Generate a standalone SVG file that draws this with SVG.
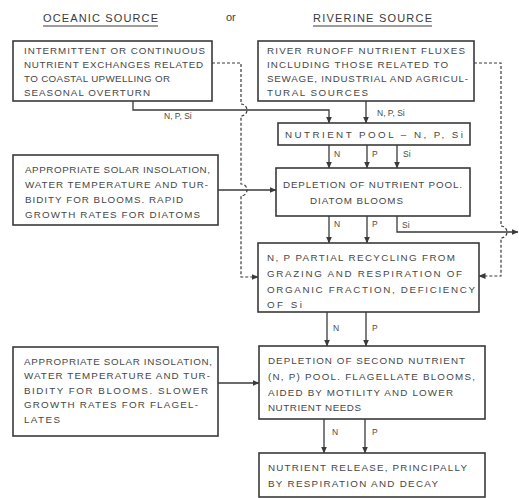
<svg xmlns="http://www.w3.org/2000/svg" width="519" height="498" viewBox="0 0 519 498">
<style>
.bg{fill:#ffffff}
.box{fill:#ffffff;stroke:#3a3a3a;stroke-width:1.6}
.t{font-family:"Liberation Sans",Arial,sans-serif;font-size:9.8px;fill:#474747}
.h{font-family:"Liberation Sans",Arial,sans-serif;font-size:11px;fill:#3a3a3a}
.lb{font-family:"Liberation Sans",Arial,sans-serif;font-size:8.5px;fill:#4a4a4a}
.ln{fill:none;stroke:#3a3a3a;stroke-width:1.3}
.ds{fill:none;stroke:#3a3a3a;stroke-width:1.2;stroke-dasharray:3 2}
</style>
<defs>
<marker id="ah" markerWidth="7" markerHeight="6" refX="6.5" refY="3" orient="auto" markerUnits="userSpaceOnUse">
<path d="M0,0 L7,3 L0,6 z" fill="#3a3a3a"/>
</marker>
</defs>
<rect class="bg" x="0" y="0" width="519" height="498"/>

<g id="headers">
<text class="h" x="43" y="22" textLength="115" lengthAdjust="spacing">OCEANIC  SOURCE</text>
<line x1="43" y1="26" x2="158" y2="26" stroke="#3a3a3a" stroke-width="1"/>
<text class="h" x="226" y="21">or</text>
<text class="h" x="313" y="22" textLength="119" lengthAdjust="spacing">RIVERINE  SOURCE</text>
<line x1="313" y1="26" x2="432" y2="26" stroke="#3a3a3a" stroke-width="1"/>
</g>

<g id="connectors">
<path class="ln" d="M133,101 V110 H329 V123" marker-end="url(#ah)"/>
<path class="ln" d="M366,101 V123" marker-end="url(#ah)"/>
<path class="ln" d="M329,145 V168" marker-end="url(#ah)"/>
<path class="ln" d="M367,145 V168" marker-end="url(#ah)"/>
<path class="ln" d="M397,145 V168" marker-end="url(#ah)"/>
<path class="ln" d="M218,190 H276" marker-end="url(#ah)"/>
<path class="ln" d="M329,216 V243" marker-end="url(#ah)"/>
<path class="ln" d="M367,216 V243" marker-end="url(#ah)"/>
<path class="ln" d="M397,216 V232 H518" marker-end="url(#ah)"/>
<path class="ln" d="M327,312 V346" marker-end="url(#ah)"/>
<path class="ln" d="M366,312 V346" marker-end="url(#ah)"/>
<path class="ln" d="M218,383 H259" marker-end="url(#ah)"/>
<path class="ln" d="M324,419 V453" marker-end="url(#ah)"/>
<path class="ln" d="M365,419 V453" marker-end="url(#ah)"/>
<path class="ds" d="M212,63 H241 V104 A6,6 0 0 1 241,116 V184 A6,6 0 0 1 241,196 V277 H258" marker-end="url(#ah)"/>
<path class="ds" d="M474,63 H501 V226 A6,6 0 0 1 501,238 V276 H479" marker-end="url(#ah)"/>
<text class="lb" x="164" y="119">N, P, Si</text>
<text class="lb" x="377" y="116">N, P, Si</text>
<text class="lb" x="334" y="157">N</text>
<text class="lb" x="372" y="157">P</text>
<text class="lb" x="403" y="157">Si</text>
<text class="lb" x="334" y="227">N</text>
<text class="lb" x="372" y="227">P</text>
<text class="lb" x="402" y="228">Si</text>
<text class="lb" x="333" y="331">N</text>
<text class="lb" x="372" y="331">P</text>
<text class="lb" x="332" y="435">N</text>
<text class="lb" x="372" y="435">P</text>
</g>

<g id="oceanic">
<rect class="box" x="13" y="41" width="199" height="60"/>
<text class="t" x="24" y="54" textLength="181" lengthAdjust="spacing">INTERMITTENT OR CONTINUOUS</text>
<text class="t" x="24" y="68" textLength="179" lengthAdjust="spacing">NUTRIENT EXCHANGES RELATED</text>
<text class="t" x="24" y="82" textLength="146" lengthAdjust="spacing">TO COASTAL UPWELLING OR</text>
<text class="t" x="24" y="96" textLength="126" lengthAdjust="spacing">SEASONAL OVERTURN</text>
</g>

<g id="riverine">
<rect class="box" x="258" y="41" width="216" height="60"/>
<text class="t" x="267" y="54" textLength="198" lengthAdjust="spacing">RIVER RUNOFF NUTRIENT FLUXES</text>
<text class="t" x="267" y="68" textLength="181" lengthAdjust="spacing">INCLUDING THOSE RELATED TO</text>
<text class="t" x="267" y="82" textLength="201" lengthAdjust="spacing">SEWAGE, INDUSTRIAL AND AGRICUL-</text>
<text class="t" x="267" y="96" textLength="101" lengthAdjust="spacing">TURAL SOURCES</text>
</g>

<g id="pool">
<rect class="box" x="278" y="123" width="192" height="22"/>
<text class="t" x="285" y="138" textLength="178" lengthAdjust="spacing">NUTRIENT POOL  –  N, P, Si</text>
</g>

<g id="diatom">
<rect class="box" x="276" y="168" width="194" height="48"/>
<text class="t" x="283" y="188" textLength="179" lengthAdjust="spacing">DEPLETION OF NUTRIENT POOL.</text>
<text class="t" x="310" y="204" textLength="93" lengthAdjust="spacing">DIATOM BLOOMS</text>
</g>

<g id="solar1">
<rect class="box" x="13" y="155" width="205" height="70"/>
<text class="t" x="25" y="173" textLength="185" lengthAdjust="spacing">APPROPRIATE SOLAR INSOLATION,</text>
<text class="t" x="25" y="188" textLength="183" lengthAdjust="spacing">WATER TEMPERATURE AND TUR-</text>
<text class="t" x="25" y="203" textLength="158" lengthAdjust="spacing">BIDITY FOR BLOOMS. RAPID</text>
<text class="t" x="25" y="218" textLength="175" lengthAdjust="spacing">GROWTH RATES FOR DIATOMS</text>
</g>

<g id="recycling">
<rect class="box" x="258" y="243" width="221" height="69"/>
<text class="t" x="267" y="261" textLength="188" lengthAdjust="spacing">N, P PARTIAL RECYCLING FROM</text>
<text class="t" x="267" y="277" textLength="195" lengthAdjust="spacing">GRAZING AND RESPIRATION OF</text>
<text class="t" x="267" y="293" textLength="208" lengthAdjust="spacing">ORGANIC FRACTION, DEFICIENCY</text>
<text class="t" x="267" y="308" textLength="35" lengthAdjust="spacing">OF Si</text>
</g>

<g id="solar2">
<rect class="box" x="13" y="347" width="205" height="89"/>
<text class="t" x="24" y="365" textLength="188" lengthAdjust="spacing">APPROPRIATE SOLAR INSOLATION,</text>
<text class="t" x="24" y="379" textLength="186" lengthAdjust="spacing">WATER TEMPERATURE AND TUR-</text>
<text class="t" x="24" y="394" textLength="184" lengthAdjust="spacing">BIDITY FOR BLOOMS. SLOWER</text>
<text class="t" x="24" y="408" textLength="174" lengthAdjust="spacing">GROWTH RATES FOR FLAGEL-</text>
<text class="t" x="24" y="423" textLength="36" lengthAdjust="spacing">LATES</text>
</g>

<g id="flagellate">
<rect class="box" x="259" y="346" width="226" height="73"/>
<text class="t" x="268" y="364" textLength="197" lengthAdjust="spacing">DEPLETION OF SECOND NUTRIENT</text>
<text class="t" x="268" y="380" textLength="207" lengthAdjust="spacing">(N, P) POOL. FLAGELLATE BLOOMS,</text>
<text class="t" x="268" y="396" textLength="185" lengthAdjust="spacing">AIDED BY MOTILITY AND LOWER</text>
<text class="t" x="268" y="411" textLength="93" lengthAdjust="spacing">NUTRIENT NEEDS</text>
</g>

<g id="release">
<rect class="box" x="259" y="453" width="226" height="44"/>
<text class="t" x="268" y="471" textLength="199" lengthAdjust="spacing">NUTRIENT RELEASE, PRINCIPALLY</text>
<text class="t" x="268" y="487" textLength="170" lengthAdjust="spacing">BY RESPIRATION AND DECAY</text>
</g>
</svg>
